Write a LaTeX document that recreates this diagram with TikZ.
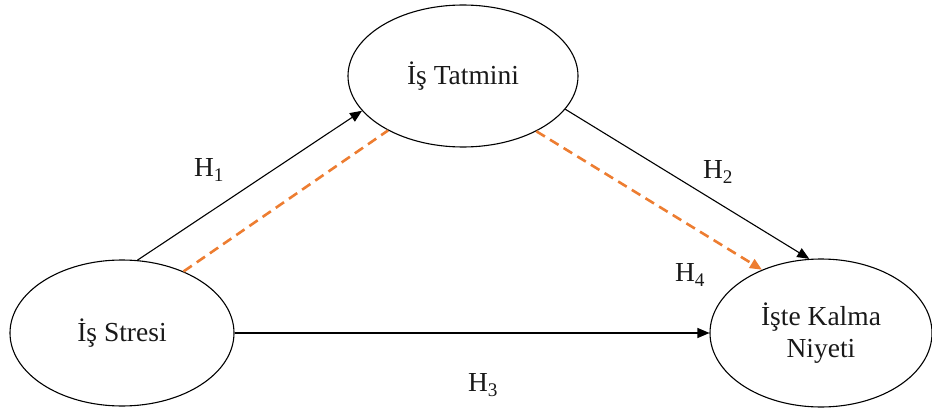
\documentclass[tikz,border=0pt]{standalone}
\usepackage{fontspec}
\setmainfont{Liberation Serif}
\usepackage{tikz}
\usetikzlibrary{arrows.meta,shapes.geometric}
\definecolor{medorange}{RGB}{237,125,49}

\begin{document}
\begin{tikzpicture}[x=1pt,y=-1pt,>={Triangle[length=12pt,width=10pt]},
  construct/.style={draw,ellipse,line width=1.1pt,inner sep=0pt,align=center,
    font=\fontsize{27.5}{32}\selectfont,text=black!90},
  hyp/.style={line width=1.1pt,->},
  mediation/.style={line width=2.6pt,medorange,dash pattern=on 10pt off 6pt},
  hlabel/.style={font=\fontsize{27.5}{32}\selectfont,text=black!90}]
  \useasboundingbox (0,0) rectangle (932,412);

  \node[construct,minimum width=230pt,minimum height=142pt] (tatmin) at (463,76) {İş Tatmini};
  \node[construct,minimum width=224pt,minimum height=146pt] (stres) at (122,333) {İş Stresi};
  \node[construct,minimum width=222pt,minimum height=148pt] (niyet) at (821,333) {İşte Kalma\\Niyeti};

  % direct paths
  \draw[hyp] (stres.78) -- (tatmin.199);
  \draw[hyp] (tatmin.342) -- (niyet.99);
  \draw[hyp] (stres.0) -- (niyet.180);

  % mediated path
  \draw[mediation] (stres.45) -- (tatmin.216);
  \draw[mediation,->] (tatmin.323) -- (niyet.133);

  \node[hlabel] (h1) at (209,170) {H\textsubscript{1}};
  \node[hlabel] (h2) at (718,172) {H\textsubscript{2}};
  \node[hlabel] (h3) at (483,385) {H\textsubscript{3}};
  \node[hlabel] (h4) at (690,275) {H\textsubscript{4}};
\end{tikzpicture}
\end{document}
